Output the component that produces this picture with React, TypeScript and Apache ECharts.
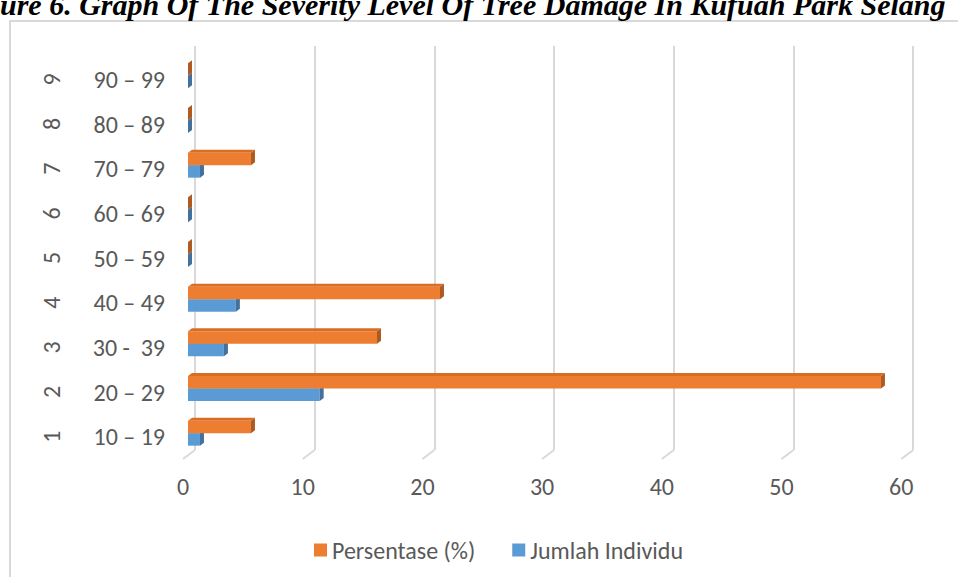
import React, { useEffect, useRef } from "react";
import * as echarts from "echarts";

const categories = ["10 – 19", "20 – 29", "30 -  39", "40 – 49", "50 – 59", "60 – 69", "70 – 79", "80 – 89", "90 – 99"];
const classNumbers = ["1", "2", "3", "4", "5", "6", "7", "8", "9"];
const persentase = [5.26, 57.89, 15.79, 21.05, 0, 0, 5.26, 0, 0];
const jumlahIndividu = [1, 11, 3, 4, 0, 0, 1, 0, 0];
const xTicks = [0, 10, 20, 30, 40, 50, 60];
const seriesNames = ["Persentase (%)", "Jumlah Individu"];
const titleText = "ure 6. Graph Of The Severity Level Of Tree Damage In Kufuah Park Selang";

const FONT = 'Calibri, Carlito, "Open Sans", sans-serif';
const GREY = "#595959";
const GRID_LINE = "#d9d9d9";

const PLOT_W = 718.2;
const PLOT_H = 402;

function make3DBar(upper: boolean, front: string, top: string, side: string) {
  return (params: any, api: any) => {
    const v = api.value(0);
    const c = api.value(1);
    const p0 = api.coord([0, c]);
    const p1 = api.coord([v, c]);
    const h = 12.5;
    const dx = 4;
    const dy = -3;
    const y0 = upper ? p0[1] - h : p0[1];
    const x0 = p0[0];
    const x1 = p1[0];
    return {
      type: "group",
      children: [
        {
          type: "polygon",
          shape: { points: [[x0, y0], [x1, y0], [x1 + dx, y0 + dy], [x0 + dx, y0 + dy]] },
          style: { fill: top },
        },
        {
          type: "rect",
          shape: { x: x0, y: y0, width: Math.max(0, x1 - x0), height: h },
          style: { fill: front },
        },
        {
          type: "polygon",
          shape: { points: [[x1, y0], [x1 + dx, y0 + dy], [x1 + dx, y0 + dy + h], [x1, y0 + h]] },
          style: { fill: side },
        },
      ],
    };
  };
}

export default function App() {
  const ref = useRef<HTMLDivElement>(null);

  useEffect(() => {
    if (!ref.current) return;
    const chart = echarts.init(ref.current, undefined, { renderer: "svg" });

    const option: any = {
      animation: false,
      backgroundColor: "#ffffff",
      grid: [
        // 0: bar plane
        { left: 188, top: 53.5, width: PLOT_W, height: PLOT_H },
        // 1: front floor plane (labels)
        { left: 183, top: 57, width: PLOT_W, height: PLOT_H },
        // 2: back wall (gridlines)
        { left: 195, top: 46, width: PLOT_W, height: 404 },
      ],
      xAxis: [
        {
          gridIndex: 0, type: "value", min: 0, max: 60, interval: 10,
          show: false,
        },
        {
          gridIndex: 1, type: "value", min: 0, max: 60, interval: 10,
          axisLine: { show: false }, axisTick: { show: false }, splitLine: { show: false },
          axisLabel: { fontSize: 24, color: GREY, fontFamily: FONT, margin: 15 },
        },
        {
          gridIndex: 2, type: "value", min: 0, max: 60, interval: 10,
          axisLine: { show: false }, axisTick: { show: false }, axisLabel: { show: false },
          splitLine: { show: true, lineStyle: { color: GRID_LINE, width: 2 } },
        },
      ],
      yAxis: [
        { gridIndex: 0, type: "category", data: categories, show: false },
        {
          gridIndex: 1, type: "category", data: categories,
          axisLine: { show: false }, axisTick: { show: false },
          axisLabel: { fontSize: 24, color: GREY, fontFamily: FONT, margin: 18 },
        },
        {
          gridIndex: 1, type: "category", data: classNumbers, position: "left",
          axisLine: { show: false }, axisTick: { show: false },
          axisLabel: { fontSize: 24, color: GREY, fontFamily: FONT, margin: 120, rotate: 90 },
        },
        { gridIndex: 2, type: "value", min: 0, max: 1, show: false },
      ],
      legend: {
        data: seriesNames,
        left: 309,
        top: 533,
        icon: "rect",
        itemWidth: 13,
        itemHeight: 13,
        itemGap: 37,
        textStyle: { fontSize: 24, color: GREY, fontFamily: FONT },
      },
      graphic: [
        {
          type: "rect",
          shape: { x: 10, y: 21, width: 980, height: 600 },
          style: { fill: "none", stroke: GRID_LINE, lineWidth: 2 },
          z: 0,
        },
        {
          type: "text",
          x: 0,
          y: 19,
          style: {
            text: titleText,
            font: 'italic bold 30px "Liberation Serif", "DejaVu Serif", serif',
            fill: "#000000",
            verticalAlign: "bottom",
          },
        },
      ],
      series: [
        {
          name: "Jumlah Individu",
          type: "custom",
          xAxisIndex: 0,
          yAxisIndex: 0,
          z: 2,
          itemStyle: { color: "#5B9BD5" },
          encode: { x: 0, y: 1 },
          data: jumlahIndividu.map((v, i) => [v, i]),
          renderItem: make3DBar(false, "#5B9BD5", "#4F8AC2", "#41719C"),
        },
        {
          name: "Persentase (%)",
          type: "custom",
          xAxisIndex: 0,
          yAxisIndex: 0,
          z: 3,
          itemStyle: { color: "#ED7D31" },
          encode: { x: 0, y: 1 },
          data: persentase.map((v, i) => [v, i]),
          renderItem: make3DBar(true, "#ED7D31", "#D96D24", "#AE5A21"),
        },
        {
          name: "floor",
          type: "custom",
          xAxisIndex: 2,
          yAxisIndex: 3,
          silent: true,
          z: 1,
          data: xTicks.map((v) => [v, 0]),
          renderItem: (params: any, api: any) => {
            const pt = api.coord([api.value(0), 0]);
            return {
              type: "line",
              shape: { x1: pt[0], y1: pt[1], x2: pt[0] - 12, y2: pt[1] + 9 },
              style: { stroke: GRID_LINE, lineWidth: 2 },
            };
          },
        },
      ],
    };

    chart.setOption(option);
    return () => chart.dispose();
  }, []);

  return (
    <div
      ref={ref}
      style={{ position: "fixed", left: 0, top: 0, width: 958, height: 577, background: "#fff" }}
    />
  );
}
